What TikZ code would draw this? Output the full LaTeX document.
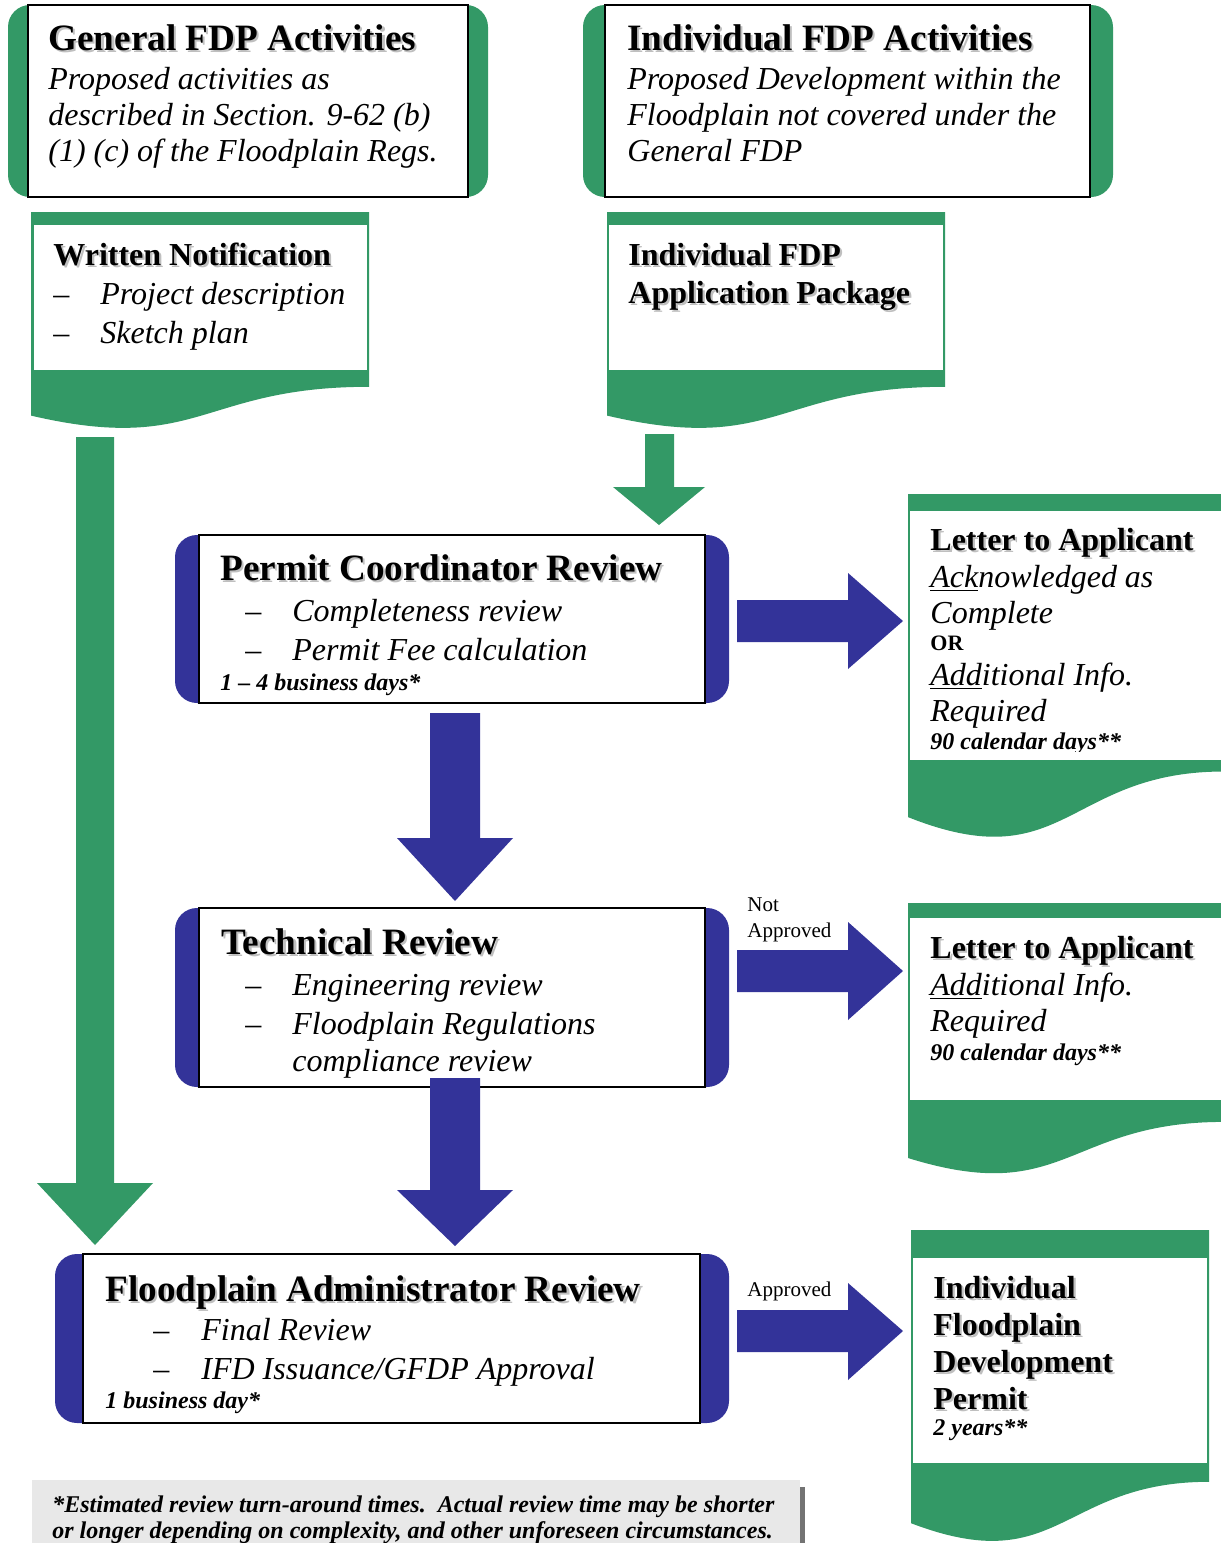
\documentclass[tikz,border=0pt]{standalone}
\usepackage{fontspec}
\setmainfont{Liberation Serif}
\definecolor{grn}{RGB}{51,153,102}
\definecolor{blu}{RGB}{51,51,153}
\definecolor{ftr}{RGB}{232,232,232}
\newcommand\shd[1]{\leavevmode\rlap{\kern1.1pt\raisebox{-1.1pt}{\textcolor{black!25}{#1}}}#1}
\begin{document}
\begin{tikzpicture}[x=0.5pt,y=-0.5pt,
  ttl/.style={anchor=base west, inner sep=0pt, font=\fontsize{18.6}{21}\selectfont\bfseries},
  sub/.style={anchor=base west, inner sep=0pt, font=\fontsize{16}{19}\selectfont\bfseries},
  itl/.style={anchor=base west, inner sep=0pt, font=\fontsize{16}{19}\selectfont\itshape},
  dsh/.style={anchor=base west, inner sep=0pt, font=\fontsize{16}{19}\selectfont},
  sml/.style={anchor=base west, inner sep=0pt, font=\fontsize{12}{14}\selectfont\bfseries\itshape},
  orl/.style={anchor=base west, inner sep=0pt, font=\fontsize{11}{13}\selectfont\bfseries},
  lbl/.style={anchor=base west, inner sep=0pt, font=\fontsize{10.5}{12}\selectfont},
  whitebox/.style={fill=white, draw=black, line width=1pt},
  paper/.style={fill=white},
  grnfill/.style={fill=grn},
  blufill/.style={fill=blu}]
\clip (0,0) rectangle (1221,1543);
\fill[white] (0,0) rectangle (1221,1543);

% ---------- top boxes ----------
\fill[grnfill, rounded corners=11pt] (8,5) rectangle (488,197);
\draw[whitebox] (28,5) rectangle (468,197);
\fill[grnfill, rounded corners=11pt] (583,5) rectangle (1113,197);
\draw[whitebox] (605,5) rectangle (1090,197);

\node[ttl] (g1) at (48,50) {\shd{General FDP Activities}};
\node[itl] (g2) at (48,89) {Proposed activities as};
\node[itl] (g3) at (48,125) {described in Section. 9-62 (b)};
\node[itl] (g4) at (48,161) {(1) (c) of the Floodplain Regs.};

\node[ttl] (i1) at (627,50) {\shd{Individual FDP Activities}};
\node[itl] (i2) at (627,89) {Proposed Development within the};
\node[itl] (i3) at (627,125) {Floodplain not covered under the};
\node[itl] (i4) at (627,161) {General FDP};

% ---------- document shapes ----------
\fill[grnfill] (31,212) -- (369,212) -- (369,386.8) .. controls (200,386.8) and (200,455) .. (31,415.6) -- cycle;
\fill[paper] (34,225) rectangle (367,370);
\fill[grnfill] (607,212) -- (945,212) -- (945,386.8) .. controls (776,386.8) and (776,455) .. (607,415.6) -- cycle;
\fill[paper] (609,225) rectangle (943,370);

\node[sub] (w1) at (53,265) {\shd{Written Notification}};
\node[dsh] (w2d) at (53,304) {--};
\node[itl] (w2) at (100,304) {Project description};
\node[dsh] (w3d) at (53,343) {--};
\node[itl] (w3) at (100,343) {Sketch plan};

\node[sub] (a1) at (628,265) {\shd{Individual FDP}};
\node[sub] (a2) at (628,303) {\shd{Application Package}};

% ---------- green arrows ----------
\fill[grnfill] (645,434) -- (674,434) -- (674,487) -- (705,487) -- (659,525) -- (613,487) -- (645,487) -- cycle;
\fill[grnfill] (76,437) -- (114,437) -- (114,1183) -- (153,1183) -- (95,1245) -- (37,1183) -- (76,1183) -- cycle;

% ---------- Permit Coordinator Review ----------
\fill[blufill, rounded corners=11pt] (175,535) rectangle (729,703);
\draw[whitebox] (199,535) rectangle (705,703);
\node[ttl] (p1) at (220,580) {\shd{Permit Coordinator Review}};
\node[dsh] (p2d) at (245,621) {--};
\node[itl] (p2) at (292,621) {Completeness review};
\node[dsh] (p3d) at (245,660) {--};
\node[itl] (p3) at (292,660) {Permit Fee calculation};
\node[sml] (p4) at (220,690) {1 -- 4 business days*};

% ---------- blue arrows ----------
\fill[blufill] (737,600) -- (848,600) -- (848,573) -- (903,621) -- (848,669) -- (848,642) -- (737,642) -- cycle;
\fill[blufill] (430,713) -- (480,713) -- (480,838) -- (513,838) -- (455,901) -- (397,838) -- (430,838) -- cycle;

% ---------- Technical Review ----------
\fill[blufill, rounded corners=11pt] (175,908) rectangle (729,1087);
\draw[whitebox] (199,908) rectangle (705,1087);
\node[ttl] (t1) at (221,954) {\shd{Technical Review}};
\node[dsh] (t2d) at (245,995) {--};
\node[itl] (t2) at (292,995) {Engineering review};
\node[dsh] (t3d) at (245,1034) {--};
\node[itl] (t3) at (292,1034) {Floodplain Regulations};
\node[itl] (t4) at (292,1071) {compliance review};

\fill[blufill] (737,950) -- (848,950) -- (848,922) -- (903,971) -- (848,1020) -- (848,992) -- (737,992) -- cycle;
\node[lbl] (na1) at (747,911) {Not};
\node[lbl] (na2) at (747,937) {Approved};
\fill[blufill] (430,1078) -- (480,1078) -- (480,1190) -- (513,1190) -- (455,1246) -- (397,1190) -- (430,1190) -- cycle;

% ---------- Floodplain Administrator Review ----------
\fill[blufill, rounded corners=11pt] (55,1254) rectangle (729,1423);
\draw[whitebox] (83,1254) rectangle (700,1423);
\node[ttl] (f1) at (105,1301) {\shd{Floodplain Administrator Review}};
\node[dsh] (f2d) at (153,1340) {--};
\node[itl] (f2) at (201,1340) {Final Review};
\node[dsh] (f3d) at (153,1379) {--};
\node[itl] (f3) at (201,1379) {IFD Issuance/GFDP Approval};
\node[sml] (f4) at (105,1408) {1 business day*};

\fill[blufill] (737,1310) -- (848,1310) -- (848,1283) -- (903,1331) -- (848,1380) -- (848,1352) -- (737,1352) -- cycle;
\node[lbl] (ap) at (747,1296) {Approved};

% ---------- Letter to Applicant 1 ----------
\fill[grnfill] (908,494) -- (1224,494) -- (1224,771.5) .. controls (1066,771.5) and (1066,880) .. (908,817.1) -- cycle;
\fill[paper] (910,511) rectangle (1224,760);
\node[sub] (l1) at (930,550) {\shd{Letter to Applicant}};
\node[itl] (l2) at (930,587) {\underline{Ack}nowledged as};
\node[itl] (l3) at (930,623) {Complete};
\node[orl] (l4) at (930,650) {OR};
\node[itl] (l5) at (930,685) {\underline{Add}itional Info.};
\node[itl] (l6) at (930,721) {Required};
\begin{scope}
\clip (900,700) rectangle (1221,751);
\node[sml] (l7) at (930,749) {90 calendar days**};
\end{scope}

% ---------- Letter to Applicant 2 ----------
\fill[grnfill] (908,903) -- (1224,903) -- (1224,1121.9) .. controls (1066,1121.9) and (1066,1207) .. (908,1158) -- cycle;
\fill[paper] (910,918) rectangle (1224,1100);
\node[sub] (m1) at (930,958) {\shd{Letter to Applicant}};
\node[itl] (m2) at (930,995) {\underline{Add}itional Info.};
\node[itl] (m3) at (930,1031) {Required};
\node[sml] (m4) at (930,1060) {90 calendar days**};

% ---------- Permit ----------
\fill[grnfill] (911,1230) -- (1209,1230) -- (1209,1481.8) .. controls (1060,1481.8) and (1060,1580) .. (911,1523.2) -- cycle;
\fill[paper] (913,1258) rectangle (1207,1463);
\node[sub] (d1) at (933,1298) {\shd{Individual}};
\node[sub] (d2) at (933,1335) {\shd{Floodplain}};
\node[sub] (d3) at (933,1372) {\shd{Development}};
\node[sub] (d4) at (933,1409) {\shd{Permit}};
\node[sml] (d5) at (933,1435) {2 years**};

% ---------- footer ----------
\fill[ftr] (32,1480) rectangle (800,1543);
\fill[black!55] (800,1487) rectangle (805,1543);
\node[sml] (n1) at (52,1512) {*Estimated review turn-around times.\ \ Actual review time may be shorter};
\node[sml] (n2) at (52,1538) {or longer depending on complexity, and other unforeseen circumstances.};
\end{tikzpicture}
\end{document}
